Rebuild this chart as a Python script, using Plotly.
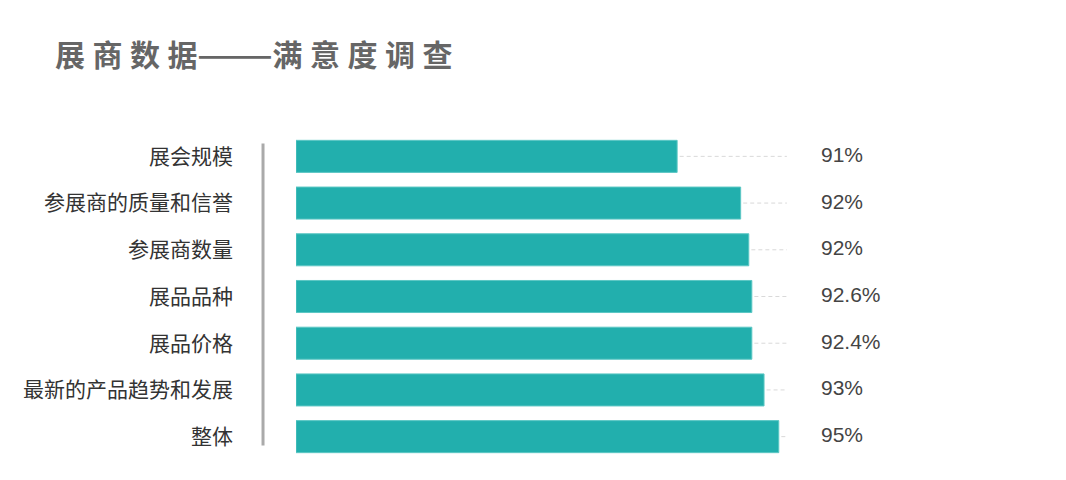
import plotly.graph_objects as go

# datos
categorias = ["展会规模", "参展商的质量和信誉", "参展商数量", "展品品种",
              "展品价格", "最新的产品趋势和发展", "整体"]
longitud_barra = [75.0, 87.5, 89.1, 89.7, 89.7, 92.1, 95.0]  # largo dibujado
etiquetas = ["91%", "92%", "92%", "92.6%", "92.4%", "93%", "95%"]

sp = "\u2005"
titulo = sp.join("展商数据") + "———" + sp.join("满意度调查")

color_barra = "#22AFAD"
fin_guia = 96.6     # donde acaba la linea punteada
x_etiqueta = 102.9  # donde empieza el texto del porcentaje

fig = go.Figure()

# lineas punteadas desde el final de cada barra
for cat, v in zip(categorias, longitud_barra):
    fig.add_trace(go.Scatter(
        x=[v + 0.5, fin_guia], y=[cat, cat], mode="lines",
        line=dict(color="#d9d9d9", width=1, dash="4px,3px"),
        hoverinfo="skip", showlegend=False,
    ))

fig.add_trace(go.Bar(
    x=longitud_barra, y=categorias, orientation="h",
    marker=dict(color=color_barra, line=dict(color="#5cc7c4", width=1)),
    showlegend=False,
))

for cat, txt in zip(categorias, etiquetas):
    fig.add_annotation(
        x=x_etiqueta, y=cat, text=txt, showarrow=False,
        xanchor="left", yanchor="middle", yshift=2,
        font=dict(family="Liberation Sans", size=21, color="#444444"),
    )

# barra vertical gris a la izquierda
fig.add_shape(type="line", xref="paper", yref="paper",
              x0=-0.059, x1=-0.059, y0=0.044, y1=0.968,
              line=dict(color="#aaaaaa", width=3))

fig.add_annotation(
    xref="paper", yref="paper", x=-0.4345, y=1.245,
    text="<b>" + titulo + "</b>", showarrow=False,
    xanchor="left", yanchor="middle",
    font=dict(family="Noto Sans CJK SC", size=30, color="#666666"),
)

fig.update_layout(
    width=1066, height=480,
    margin=dict(l=288, r=219, t=125, b=28),
    paper_bgcolor="white", plot_bgcolor="white",
    bargap=0.314,
    xaxis=dict(range=[0, 110], visible=False),
    yaxis=dict(
        categoryorder="array", categoryarray=categorias[::-1],
        showgrid=False, zeroline=False, showline=False, ticks="",
        ticklabelstandoff=62,
        tickfont=dict(family="Noto Sans CJK SC", size=21, color="#333333"),
    ),
)

fig.write_html("out.html")
